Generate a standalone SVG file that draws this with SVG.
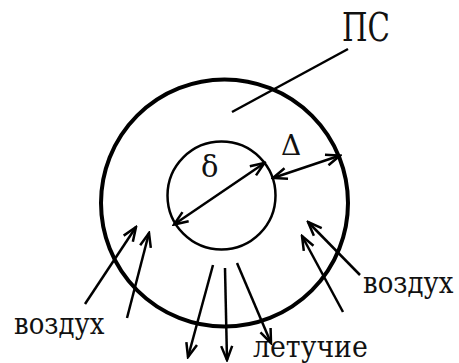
<svg xmlns="http://www.w3.org/2000/svg" width="459" height="363" viewBox="0 0 459 363">
<style>
.ln{stroke:#000;stroke-width:2.5;fill:none}
.ar{stroke:#000;stroke-width:2.5;fill:none;marker-end:url(#ah)}
.dar{stroke:#000;stroke-width:2.5;fill:none;marker-end:url(#ah);marker-start:url(#ah)}
.t{font-family:"DejaVu Serif","Liberation Serif",serif;fill:#111}
.lc{font-size:26px}
</style>
<defs>
<marker id="ah" markerUnits="userSpaceOnUse" viewBox="-15 -7 17 14" markerWidth="17" markerHeight="14" refX="0" refY="0" orient="auto-start-reverse">
<path d="M-14,-5.5 L0,0 L-14,5.5" fill="none" stroke="#000" stroke-width="2.5"/>
</marker>
</defs>
<rect width="459" height="363" fill="#fff"/>
<g id="outer"><circle cx="224.5" cy="203" r="123.5" fill="none" stroke="#000" stroke-width="4"/></g>
<g id="inner"><circle cx="221.5" cy="195.5" r="54" fill="none" stroke="#000" stroke-width="2.5"/></g>
<g id="labels">
<text class="t" x="342" y="41" font-size="40" textLength="48" lengthAdjust="spacingAndGlyphs">ПС</text>
<text class="t" x="201" y="177" font-size="29">δ</text>
<text class="t" x="281" y="155" font-size="28">Δ</text>
<text class="t lc" transform="translate(14,334) scale(1,1.12)">воздух</text>
<text class="t lc" transform="translate(363,293) scale(1,1.12)">воздух</text>
<text class="t lc" transform="translate(253,357) scale(1.03,1.12)">летучие</text>
</g>
<g id="connectors">
<line class="ln" x1="348" y1="49" x2="232" y2="112"/>
<line class="dar" x1="174" y1="224.5" x2="264.5" y2="163"/>
<line class="dar" x1="273" y1="178" x2="340" y2="155.5"/>
<line class="ar" x1="85" y1="304" x2="136" y2="227"/>
<line class="ar" x1="127" y1="318" x2="149" y2="233"/>
<line class="ar" x1="360" y1="275" x2="308" y2="222"/>
<line class="ar" x1="343" y1="312" x2="302" y2="236"/>
<line class="ar" x1="213" y1="265" x2="188" y2="357"/>
<line class="ar" x1="225" y1="268" x2="227" y2="360"/>
<line class="ar" x1="237" y1="263" x2="271" y2="343"/>
</g>
</svg>
